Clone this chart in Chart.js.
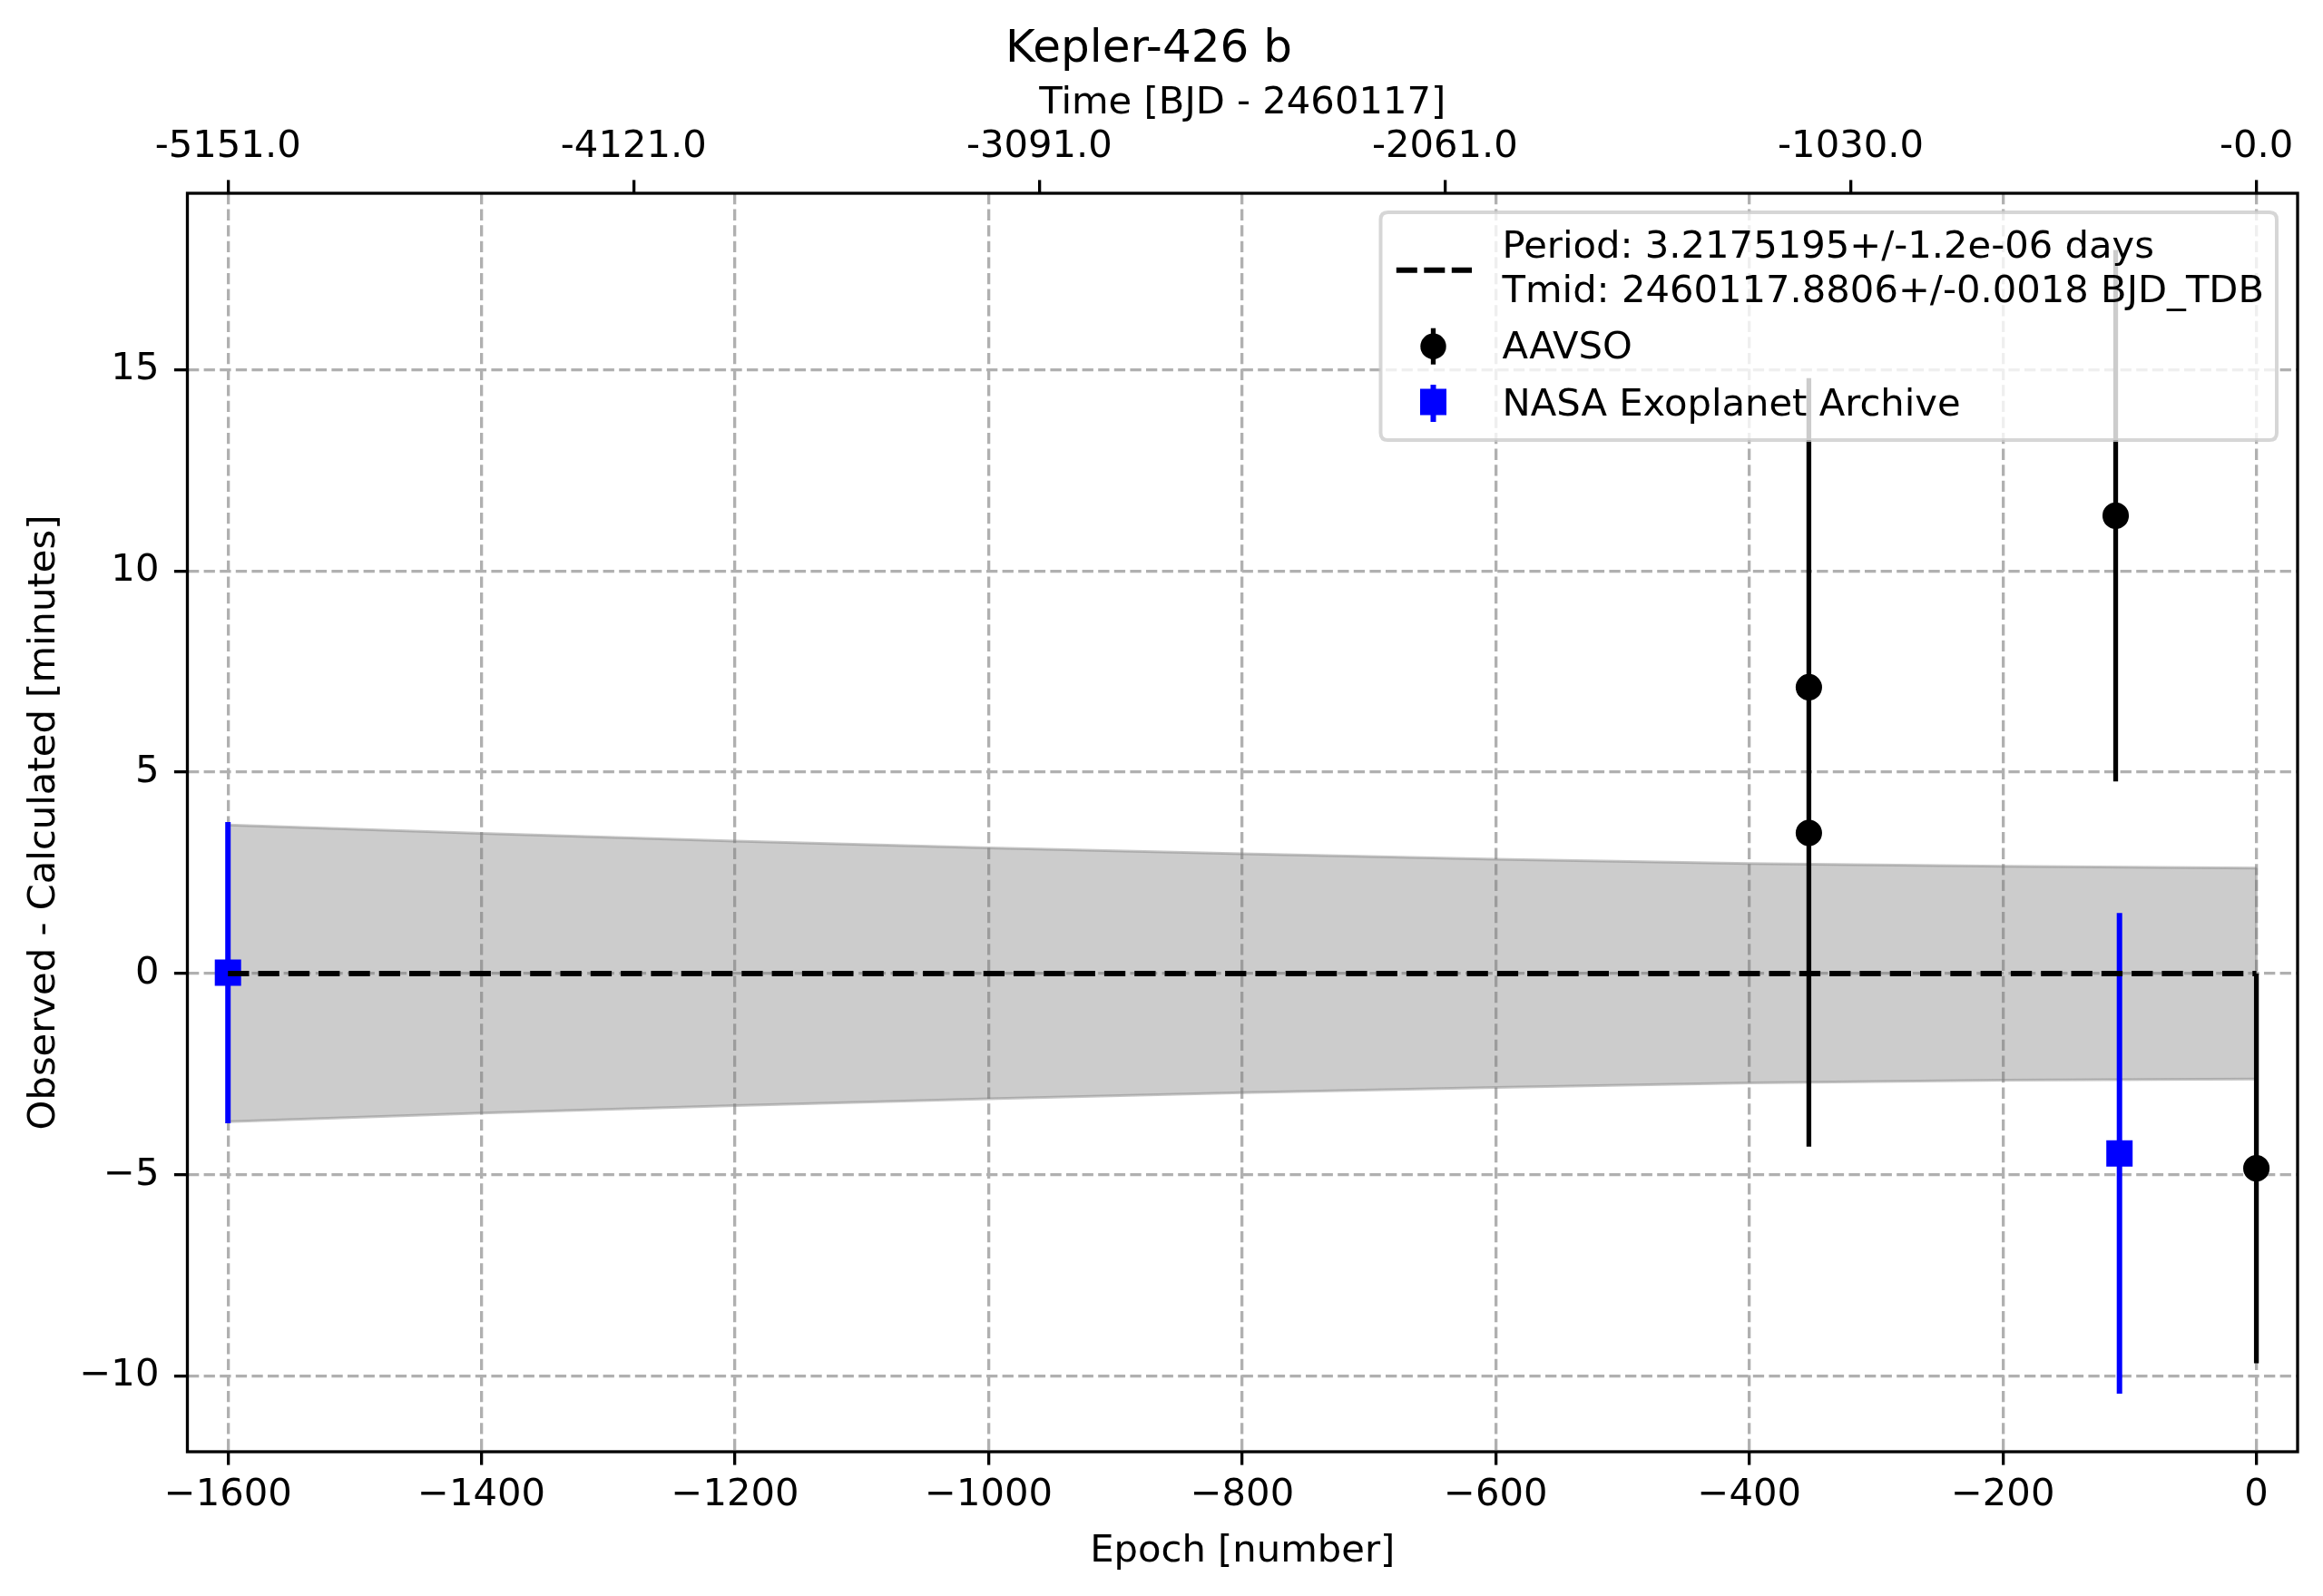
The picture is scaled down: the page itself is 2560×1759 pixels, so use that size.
<!DOCTYPE html>
<html>
<head>
<meta charset="utf-8">
<script src="https://cdn.jsdelivr.net/npm/chart.js@4.4.1/dist/chart.umd.min.js"></script>
<style>
html,body{margin:0;padding:0;background:#fff;}
#wrap{width:2560px;height:1759px;position:relative;}
</style>
</head>
<body>
<div id="wrap"><canvas id="c"></canvas></div>
<script>
// ---- data ----
const chartTitle = 'Kepler-426 b';
const topAxisTitle = 'Time [BJD - 2460117]';
const xAxisTitle = 'Epoch [number]';
const yAxisTitle = 'Observed - Calculated [minutes]';

const xTicks = [-1600, -1400, -1200, -1000, -800, -600, -400, -200, 0];
const yTicks = [-10, -5, 0, 5, 10, 15];
const topTickEpochs = [-1600, -1280, -960, -640, -320, 0];
const topTickLabels = ['-5151.0', '-4121.0', '-3091.0', '-2061.0', '-1030.0', '-0.0'];

const aavsoEpoch = [-353, -353, -111, 0];
const aavsoOC    = [7.11, 3.49, 11.37, -4.84];
const aavsoErr   = [7.68, 7.79, 6.60, 4.84];

const nasaEpoch = [-1600, -108];
const nasaOC    = [0.02, -4.47];
const nasaErr   = [3.74, 5.97];

const fitEpoch = [-1600, 0];
const fitOC    = [0, 0];

const bandEpoch = [-1600, -1400, -1200, -1000, -800, -600, -400, -200, 0];
const bandUpper = [3.69, 3.48, 3.29, 3.12, 2.97, 2.84, 2.73, 2.66, 2.62];
const bandLower = [-3.68, -3.47, -3.28, -3.11, -2.96, -2.83, -2.72, -2.65, -2.62];

const legendFitLines = ['Period: 3.2175195+/-1.2e-06 days', 'Tmid: 2460117.8806+/-0.0018 BJD_TDB'];
const legendAavso = 'AAVSO';
const legendNasa = 'NASA Exoplanet Archive';

// ---- helpers ----
const FONT = '"DejaVu Sans", "Liberation Sans", sans-serif';
const TICK_PX = 41.7;
function pts(xs, ys) { return xs.map((x, i) => ({x: x, y: ys[i]})); }
function errSegments(xs, ys, es) {
  const out = [];
  xs.forEach((x, i) => {
    out.push({x: x, y: ys[i] - es[i]});
    out.push({x: x, y: ys[i] + es[i]});
    out.push({x: x, y: null});
  });
  return out;
}
function fmtMinus(v) { return (v < 0 ? '\u2212' + Math.abs(v) : String(v)); }

const gridCommon = {
  color: '#b0b0b0', lineWidth: 3.3,
  tickColor: '#000', tickWidth: 3.3, tickLength: 14.6, tickBorderDash: []
};

const framePlugin = {
  id: 'frame',
  afterDatasetsDraw(chart) {
    const {ctx, chartArea: a} = chart;
    ctx.save();
    ctx.setLineDash([]);
    ctx.strokeStyle = '#000';
    ctx.lineWidth = 3.3;
    ctx.strokeRect(a.left, a.top, a.right - a.left, a.bottom - a.top);
    ctx.restore();
  }
};

const legendPlugin = {
  id: 'mplLegend',
  afterDraw(chart) {
    const ctx = chart.ctx;
    const L = 1521.5, R = 2509, T = 234, B = 485, r = 8;
    ctx.save();
    ctx.beginPath();
    ctx.moveTo(L + r, T);
    ctx.lineTo(R - r, T); ctx.quadraticCurveTo(R, T, R, T + r);
    ctx.lineTo(R, B - r); ctx.quadraticCurveTo(R, B, R - r, B);
    ctx.lineTo(L + r, B); ctx.quadraticCurveTo(L, B, L, B - r);
    ctx.lineTo(L, T + r); ctx.quadraticCurveTo(L, T, L + r, T);
    ctx.closePath();
    ctx.fillStyle = 'rgba(255,255,255,0.8)';
    ctx.fill();
    ctx.strokeStyle = 'rgba(204,204,204,0.8)';
    ctx.lineWidth = 4;
    ctx.stroke();

    // fit line handle
    ctx.beginPath();
    ctx.setLineDash([23, 7.5]);
    ctx.strokeStyle = '#000';
    ctx.lineWidth = 6;
    ctx.moveTo(1538.8, 297.7); ctx.lineTo(1622, 297.7);
    ctx.stroke();
    ctx.setLineDash([]);

    // AAVSO handle
    ctx.beginPath();
    ctx.lineWidth = 5.3;
    ctx.moveTo(1579.5, 361.7); ctx.lineTo(1579.5, 401.7);
    ctx.stroke();
    ctx.beginPath();
    ctx.fillStyle = '#000';
    ctx.arc(1579.5, 381.7, 14.2, 0, Math.PI * 2);
    ctx.fill();

    // NASA handle
    ctx.beginPath();
    ctx.strokeStyle = '#0000ff';
    ctx.lineWidth = 6;
    ctx.moveTo(1579.5, 424); ctx.lineTo(1579.5, 465);
    ctx.stroke();
    ctx.fillStyle = '#0000ff';
    ctx.fillRect(1579.5 - 14.5, 443 - 14.5, 29, 29);

    // texts
    ctx.fillStyle = '#000';
    ctx.font = TICK_PX + 'px ' + FONT;
    ctx.textAlign = 'left';
    ctx.textBaseline = 'alphabetic';
    ctx.fillText(legendFitLines[0], 1655.5, 284);
    ctx.fillText(legendFitLines[1], 1655.5, 332.7);
    ctx.fillText(legendAavso, 1655.5, 395);
    ctx.fillText(legendNasa, 1655.5, 458);
    ctx.restore();
  }
};

Chart.defaults.font.family = FONT;
Chart.defaults.color = '#000';

new Chart(document.getElementById('c'), {
  type: 'line',
  data: {
    datasets: [
      { // band upper
        data: pts(bandEpoch, bandUpper), order: 20,
        borderColor: 'rgba(128,128,128,0.45)', borderWidth: 3, pointRadius: 0, fill: false
      },
      { // band lower, filled to upper
        data: pts(bandEpoch, bandLower), order: 19,
        borderColor: 'rgba(128,128,128,0.45)', borderWidth: 3, pointRadius: 0,
        fill: '-1', backgroundColor: 'rgba(128,128,128,0.4)'
      },
      { // band closing edge at the last epoch
        data: [{x: bandEpoch[bandEpoch.length - 1], y: bandLower[bandLower.length - 1]},
               {x: bandEpoch[bandEpoch.length - 1], y: bandUpper[bandUpper.length - 1]}],
        order: 18, borderColor: 'rgba(128,128,128,0.45)', borderWidth: 3, pointRadius: 0, fill: false
      },
      { // AAVSO error bars
        data: errSegments(aavsoEpoch, aavsoOC, aavsoErr), order: 12,
        borderColor: '#000', borderWidth: 5.3, pointRadius: 0, spanGaps: false, fill: false,
        borderCapStyle: 'butt'
      },
      { // AAVSO markers
        data: pts(aavsoEpoch, aavsoOC), order: 11, showLine: false,
        pointRadius: 13.8, pointBackgroundColor: '#000', pointBorderColor: '#000', pointBorderWidth: 1.5
      },
      { // NASA error bars
        data: errSegments(nasaEpoch, nasaOC, nasaErr), order: 10,
        borderColor: '#0000ff', borderWidth: 6, pointRadius: 0, spanGaps: false, fill: false,
        borderCapStyle: 'butt'
      },
      { // NASA markers
        data: pts(nasaEpoch, nasaOC), order: 9, showLine: false,
        pointStyle: 'rect', pointRadius: 20.5, pointBackgroundColor: '#0000ff',
        pointBorderColor: '#0000ff', pointBorderWidth: 0
      },
      { // linear ephemeris (O-C = 0)
        data: pts(fitEpoch, fitOC), order: 1,
        borderColor: '#000', borderWidth: 6, borderDash: [23.3, 10], pointRadius: 0, fill: false,
        borderCapStyle: 'butt'
      }
    ]
  },
  options: {
    responsive: true,
    maintainAspectRatio: false,
    devicePixelRatio: 1,
    animation: false,
    events: [],
    layout: { padding: { left: 0, right: 28, top: 0, bottom: 0 } },
    plugins: {
      legend: { display: false },
      tooltip: { enabled: false },
      title: {
        display: true, text: chartTitle, color: '#000',
        font: { size: 50, weight: 'normal', family: FONT, lineHeight: 1.2 },
        padding: { top: 24.7, bottom: 0 }
      }
    },
    scales: {
      x: {
        type: 'linear', position: 'bottom', min: -1632, max: 32.5,
        afterBuildTicks(s) { s.ticks = xTicks.map(v => ({value: v})); },
        afterFit(s) { s.height = 159; },
        ticks: { font: { size: TICK_PX, lineHeight: 1.2 }, padding: 8.6, color: '#000',
                 maxRotation: 0, autoSkip: false, callback: v => fmtMinus(v) },
        grid: Object.assign({ drawOnChartArea: true, drawTicks: true }, gridCommon),
        border: { display: false, dash: [12.3, 5.3] },
        title: { display: true, text: xAxisTitle, color: '#000',
                 font: { size: TICK_PX, lineHeight: 1.2 }, padding: { top: 0, bottom: 23.7 } }
      },
      x2: {
        type: 'linear', position: 'top', min: -1632, max: 32.5,
        afterBuildTicks(s) { s.ticks = topTickEpochs.map(v => ({value: v})); },
        afterFit(s) { s.height = 128.3; },
        ticks: { font: { size: TICK_PX, lineHeight: 1.2 }, padding: 11, color: '#000',
                 maxRotation: 0, autoSkip: false, callback: (v, i) => topTickLabels[i] },
        grid: Object.assign({ drawOnChartArea: false, drawTicks: true }, gridCommon),
        border: { display: false },
        title: { display: true, text: topAxisTitle, color: '#000',
                 font: { size: TICK_PX, lineHeight: 1.2 }, padding: { top: 4.9, bottom: 0 } }
      },
      y: {
        type: 'linear', position: 'left', min: -11.88, max: 19.38,
        afterBuildTicks(s) { s.ticks = yTicks.map(v => ({value: v})); },
        afterFit(s) { s.width = 206.5; },
        ticks: { font: { size: TICK_PX, lineHeight: 1.2 }, padding: 16.5, color: '#000',
                 autoSkip: false, callback: v => fmtMinus(v) },
        grid: Object.assign({ drawOnChartArea: true, drawTicks: true }, gridCommon),
        border: { display: false, dash: [12.3, 5.3] },
        title: { display: true, text: yAxisTitle, color: '#000',
                 font: { size: TICK_PX, lineHeight: 1.2 }, padding: { top: 24, bottom: 0 } }
      }
    }
  },
  plugins: [framePlugin, legendPlugin]
});
</script>
</body>
</html>
